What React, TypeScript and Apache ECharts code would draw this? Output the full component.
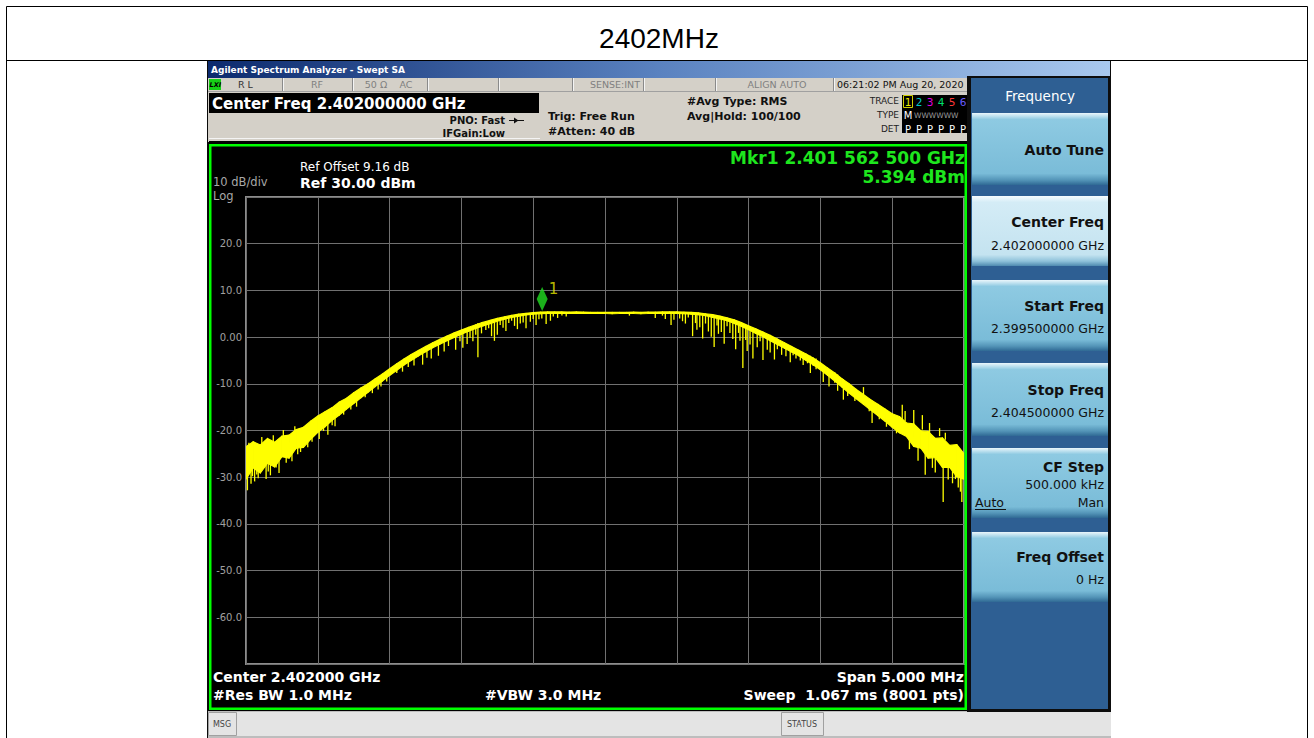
import React, { useEffect, useRef } from "react";
import * as echarts from "echarts";

// ---------- data ----------
const pageTitle = "2402MHz";
const startOffsetMHz = -2.5; // frequency offset relative to center 2.402 GHz
const stepMHz = 0.05;
// dense 8001-point trace summarised as its band: upper and lower edge (dBm) every 0.05 MHz
const bandUpper = [
  -23.5, -22.4, -23.1, -21.7, -22.5, -21.2, -21.0, -19.8, -19.3, -18.0,
  -16.9, -16.0, -15.1, -13.9, -13.1, -11.9, -10.9, -10.0, -8.9, -7.9,
  -6.8, -5.7, -4.7, -3.75, -2.85, -2.0, -1.2, -0.45, 0.25, 0.9,
  1.5, 2.1, 2.65, 3.15, 3.6, 4.0, 4.35, 4.65, 4.9, 5.1,
  5.25, 5.35, 5.4, 5.4, 5.4, 5.35, 5.4, 5.35, 5.3, 5.3,
  5.3, 5.3, 5.3, 5.3, 5.35, 5.3, 5.35, 5.35, 5.4, 5.4,
  5.4, 5.35, 5.3, 5.2, 5.0, 4.8, 4.5, 4.1, 3.7, 3.1,
  2.4, 1.8, 1.1, 0.4, -0.4, -1.2, -2.0, -2.8, -3.6, -4.5,
  -5.5, -6.6, -7.7, -8.9, -10.0, -11.2, -12.3, -13.4, -14.4, -15.4,
  -16.4, -17.0, -18.4, -18.6, -20.1, -20.2, -21.7, -21.6, -23.2, -23.0,
  -25.0,
];
const bandLower = [
  -30.4, -28.0, -29.1, -27.0, -27.8, -25.6, -25.9, -23.8, -23.6, -21.9,
  -20.4, -19.2, -17.8, -16.7, -15.4, -14.2, -13.0, -11.8, -10.6, -9.4,
  -8.2, -7.1, -6.0, -5.0, -4.05, -3.15, -2.3, -1.5, -0.75, -0.05,
  0.6, 1.25, 1.85, 2.4, 2.9, 3.4, 3.85, 4.2, 4.5, 4.75,
  4.9, 5.0, 5.1, 5.1, 5.1, 5.05, 5.1, 5.05, 5.05, 5.05,
  5.05, 5.0, 5.05, 5.05, 5.05, 5.0, 5.05, 5.1, 5.1, 5.1,
  5.1, 5.0, 4.9, 4.8, 4.6, 4.2, 3.9, 3.5, 2.9, 2.3,
  1.6, 0.8, 0.1, -0.8, -1.6, -2.4, -3.2, -4.0, -5.0, -5.9,
  -7.0, -8.2, -9.4, -10.7, -12.0, -13.2, -14.4, -15.6, -16.8, -18.0,
  -19.3, -20.5, -21.3, -23.4, -23.8, -25.9, -25.8, -27.9, -27.9, -29.9,
  -30.4,
];
// individual spikes of the trace: [offset MHz, from dBm, to dBm]
const traceSpikes = [
  [-2.49, -27.0, -32.8], [-2.48, -25.0, -22.6], [-2.465, -27.5, -31.4], [-2.455, -26.5, -29.8],
  [-2.44, -26.0, -30.9], [-2.425, -25.5, -29.4], [-2.415, -25.5, -30.2], [-2.39, -24.0, -21.4],
  [-2.36, -25.0, -30.4], [-2.345, -24.0, -28.8], [-2.33, -24.5, -29.6], [-2.31, -23.5, -21.0],
  [-2.29, -23.5, -27.9], [-2.27, -24.0, -29.1], [-2.24, -22.5, -19.9], [-2.22, -23.0, -26.9],
  [-2.2, -22.5, -25.9], [-2.18, -22.0, -26.6], [-2.16, -21.0, -19.1], [-2.14, -21.5, -25.1],
  [-2.12, -21.0, -24.6], [-2.07, -20.0, -23.6], [-2.04, -19.5, -22.4], [-1.99, -19.0, -21.8],
  [-1.96, -18.5, -20.1], [-1.93, -17.5, -20.9], [-1.9, -17.0, -18.9], [-1.88, -16.5, -19.1],
  [-1.82, -15.0, -16.6], [-1.77, -14.0, -15.5], [-1.73, -13.0, -14.9], [-1.67, -11.5, -12.9],
  [-1.62, -10.0, -12.0], [-1.58, -9.5, -11.2], [-1.56, -9.0, -10.6], [-1.52, -8.0, -9.5],
  [-1.45, -6.0, -7.7], [-1.41, -5.0, -7.4], [-1.37, -4.3, -6.4], [-1.33, -3.8, -6.1],
  [-1.27, -3.0, -5.9], [-1.24, -2.3, -4.4], [-1.21, -1.8, -4.6], [-1.16, -1.0, -4.0],
  [-1.12, -0.4, -3.1], [-1.09, 0.0, -1.9], [-1.04, 0.8, -2.7], [-1.01, 1.2, -0.9],
  [-0.99, 1.4, -2.3], [-0.96, 1.8, -1.5], [-0.94, 2.0, -0.2], [-0.92, 2.4, -0.9],
  [-0.9, 2.4, 0.5], [-0.885, 3.0, -4.3], [-0.86, 3.2, 0.8], [-0.83, 3.4, 1.5],
  [-0.81, 3.3, 1.9], [-0.79, 3.7, 0.2], [-0.77, 3.7, -0.8], [-0.75, 4.0, 0.5],
  [-0.73, 4.0, 2.6], [-0.71, 4.2, 2.0], [-0.69, 4.3, 1.3], [-0.67, 4.5, 3.0],
  [-0.65, 4.5, 3.5], [-0.63, 4.7, 2.4], [-0.61, 4.7, 1.7], [-0.59, 4.8, 2.9],
  [-0.57, 4.9, 3.1], [-0.55, 5.0, 1.9], [-0.52, 5.0, 3.3], [-0.5, 5.0, 3.9],
  [-0.48, 5.1, 2.6], [-0.46, 5.1, 3.8], [-0.44, 5.1, 4.0], [-0.41, 5.2, 2.8],
  [-0.38, 5.2, 3.5], [-0.36, 5.2, 4.4], [-0.33, 5.2, 4.1], [-0.3, 5.2, 4.6],
  [-0.27, 5.2, 4.4], [0.17, 5.1, 4.6], [0.35, 5.1, 4.1], [0.4, 5.1, 4.6],
  [0.42, 5.2, 3.9], [0.46, 5.2, 2.6], [0.48, 5.2, 3.7], [0.52, 5.2, 4.0],
  [0.54, 5.2, 3.4], [0.56, 5.1, 2.9], [0.58, 5.1, 4.2], [0.61, 5.0, 0.2],
  [0.63, 5.0, 3.0], [0.64, 4.9, 1.6], [0.66, 4.8, 2.1], [0.68, 4.7, -0.3],
  [0.7, 4.6, 2.9], [0.72, 4.5, 1.2], [0.74, 4.4, 0.1], [0.76, 4.3, -2.1],
  [0.78, 4.2, 2.5], [0.79, 4.1, 0.7], [0.81, 3.9, 1.1], [0.83, 3.8, -1.4],
  [0.85, 3.6, 2.3], [0.87, 3.4, 0.9], [0.89, 3.2, -0.4], [0.91, 2.9, -2.6],
  [0.93, 2.7, 0.9], [0.94, 2.5, -0.8], [0.96, 2.3, -6.6], [0.98, 2.0, -0.6],
  [0.99, 1.9, -3.0], [1.01, 1.7, -1.6], [1.03, 1.5, -4.6], [1.06, 1.0, -2.2],
  [1.08, 0.8, -0.9], [1.1, 0.5, -4.9], [1.13, 0.1, -2.7], [1.15, -0.1, -3.3],
  [1.18, -0.6, -4.8], [1.2, -0.8, -2.6], [1.23, -1.3, -3.8], [1.26, -1.7, -4.1],
  [1.29, -2.2, -5.4], [1.31, -2.4, -3.9], [1.33, -2.7, -4.6], [1.36, -3.1, -5.0],
  [1.38, -3.3, -6.0], [1.41, -3.8, -5.6], [1.43, -4.0, -7.7], [1.45, -4.4, -6.2],
  [1.47, -4.6, -6.9], [1.52, -6.2, -9.6], [1.56, -6.9, -10.6], [1.6, -7.6, -9.8],
  [1.62, -8.0, -11.5], [1.66, -9.0, -13.4], [1.69, -9.8, -12.6], [1.74, -11.0, -13.7],
  [1.8, -12.3, -10.7], [1.84, -13.2, -15.9], [1.86, -13.6, -18.4], [1.91, -14.6, -17.6],
  [1.94, -15.3, -17.3], [1.96, -15.6, -19.2], [2.0, -16.7, -18.9], [2.03, -16.8, -20.6],
  [2.07, -17.6, -14.5], [2.09, -18.0, -15.8], [2.12, -21.0, -24.0], [2.15, -19.0, -15.6],
  [2.18, -23.0, -26.5], [2.21, -19.8, -16.7], [2.23, -24.5, -29.5], [2.26, -21.0, -18.4],
  [2.28, -25.5, -28.0], [2.3, -25.5, -29.0], [2.33, -21.2, -19.5], [2.355, -27.0, -35.3],
  [2.37, -22.0, -20.5], [2.39, -27.5, -30.5], [2.42, -28.5, -31.3], [2.44, -28.0, -30.4],
  [2.46, -29.0, -32.2], [2.475, -29.0, -33.1], [2.485, -29.5, -35.3],
];
const xMinMHz = -2.5;
const xMaxMHz = 2.5;
const xDivMHz = 0.5;
const yMin = -70;
const yMax = 30;
const yDiv = 10;
const yTickValues = [20, 10, 0, -10, -20, -30, -40, -50, -60];
const yTickLabels = ["20.0", "10.0", "0.00", "-10.0", "-20.0", "-30.0", "-40.0", "-50.0", "-60.0"];
const markerOffsetMHz = -0.4375; // 2.401 562 500 GHz
const markerLevel = 5.394;
const markerName = "1";

const softkeyTitles = ["Auto Tune", "Center Freq", "Start Freq", "Stop Freq", "CF Step", "Freq Offset"];
const softkeyValues = ["", "2.402000000 GHz", "2.399500000 GHz", "2.404500000 GHz", "500.000 kHz", "0 Hz"];
const traceNumbers = ["1", "2", "3", "4", "5", "6"];
const traceColors = ["#e8e800", "#00c8c8", "#e000e0", "#00e070", "#ff3838", "#6a5cff"];

// ---------- helpers ----------
const FONT = '"DejaVu Sans", Verdana, sans-serif';
const YELLOW = "#ffff00";
const bg = (x: number, y: number, w: number, h: number, fill: any, z = -5) => ({
  type: "rect", shape: { x, y, width: w, height: h }, style: { fill }, z, silent: true,
});
const box = (x: number, y: number, w: number, h: number, stroke: string, lw = 1, z = 6) => ({
  type: "rect", shape: { x, y, width: w, height: h }, style: { fill: "none", stroke, lineWidth: lw }, z, silent: true,
});
const ln = (x1: number, y1: number, x2: number, y2: number, stroke: string, lw = 1, z = 6) => ({
  type: "line", shape: { x1, y1, x2, y2 }, style: { stroke, lineWidth: lw }, z, silent: true,
});
const tx = (x: number, y: number, text: string, size: number, fill: string, weight = "normal", align = "left", family = FONT) => ({
  type: "text", x, y, z: 10, silent: true,
  style: {
    text, fill, font: `${weight} ${size}px ${family}`,
    textAlign: align, textVerticalAlign: "middle", align, verticalAlign: "middle",
  },
});

function buildGraphics() {
  const g: any[] = [];
  // outer table
  g.push(bg(0, 0, 1314, 738, "#ffffff", -20));
  g.push(box(6.5, 6.5, 1301, 760, "#000000", 1, -1));
  g.push(ln(6, 60.5, 1308, 60.5, "#000000", 1, -1));
  g.push(tx(659, 38, pageTitle, 28, "#000000", "normal", "center", '"Liberation Sans", Arial, sans-serif'));

  // screenshot frame
  g.push(bg(207, 61, 904, 677, "#0a0a0a", -9));
  g.push(bg(208, 61, 902, 17, new echarts.graphic.LinearGradient(0, 0, 1, 0, [
    { offset: 0, color: "#0c2a6e" }, { offset: 0.5, color: "#5a82c0" }, { offset: 1, color: "#a8c8ee" },
  ]), -8));
  g.push(tx(211, 69.5, "Agilent Spectrum Analyzer - Swept SA", 9, "#ffffff", "bold"));

  // status row
  g.push(bg(208, 78, 759, 13, "#d4d0c8", -8));
  [282, 352, 427, 498, 572, 643, 715, 833].forEach((x) => {
    g.push(ln(x + 0.5, 78, x + 0.5, 91, "#8a8a8a", 1, -7));
    g.push(ln(x + 1.5, 78, x + 1.5, 91, "#f4f4f4", 1, -7));
  });
  g.push(bg(209, 79, 12, 11, "#16d016", -7));
  g.push(tx(209.5, 84.5, "LXI", 6.5, "#000000", "bold italic"));
  g.push(tx(238, 84.5, "R L", 9.5, "#333333"));
  g.push(tx(317, 84.5, "RF", 9.5, "#808080", "normal", "center"));
  g.push(tx(376, 84.5, "50 Ω", 9.5, "#808080", "normal", "center"));
  g.push(tx(406, 84.5, "AC", 9.5, "#808080", "normal", "center"));
  g.push(tx(640, 84.5, "SENSE:INT", 9.5, "#808080", "normal", "right"));
  g.push(tx(777, 84.5, "ALIGN AUTO", 9.5, "#808080", "normal", "center"));
  g.push(tx(837, 84.5, "06:21:02 PM Aug 20, 2020", 9.5, "#111111"));

  // header area
  g.push(bg(208, 91, 759, 51, "#d4d0c8", -8));
  g.push(ln(208, 91.5, 967, 91.5, "#a0a0a0", 1, -7));
  g.push(bg(209, 93, 330, 20, "#000000", -7));
  g.push(tx(212, 103.5, "Center Freq 2.402000000 GHz", 15, "#ffffff", "bold"));
  g.push(ln(209, 138.5, 540, 138.5, "#f4f4f4", 1, -7));
  g.push(tx(505, 120, "PNO: Fast", 10, "#111111", "bold", "right"));
  g.push(tx(505, 133, "IFGain:Low", 10, "#111111", "bold", "right"));
  g.push(ln(509, 120.5, 524, 120.5, "#111111", 1, 6));
  g.push({ type: "polygon", shape: { points: [[514, 117.5], [514, 123.5], [518.5, 120.5]] }, style: { fill: "#111111" }, z: 6, silent: true });
  g.push(tx(548, 116, "Trig: Free Run", 11, "#111111", "bold"));
  g.push(tx(548, 131, "#Atten: 40 dB", 11, "#111111", "bold"));
  g.push(tx(687, 101, "#Avg Type: RMS", 11, "#111111", "bold"));
  g.push(tx(687, 116, "Avg|Hold: 100/100", 11, "#111111", "bold"));
  g.push(tx(899, 101, "TRACE", 9, "#222222", "normal", "right"));
  g.push(tx(899, 115, "TYPE", 9, "#222222", "normal", "right"));
  g.push(tx(899, 129, "DET", 9, "#222222", "normal", "right"));
  g.push(bg(902, 95, 65, 38, "#000000", -7));
  g.push(box(903.5, 95.5, 9, 12, "#d0d000", 1, 6));
  traceNumbers.forEach((n, i) => {
    g.push(tx(908 + 11 * i, 101.5, n, 10.5, traceColors[i], "normal", "center"));
    g.push(tx(908 + 11 * i, 129, "P", 10, "#ffffff", "normal", "center"));
  });
  g.push(tx(908, 115, "M", 10, "#ffffff", "normal", "center"));
  g.push(tx(914, 115.5, "WWWWWW", 7.5, "#9a9a9a"));

  // plot area
  g.push(bg(209, 141, 758, 570, "#000000", -7));
  g.push(box(210.25, 145.25, 755.5, 563.5, "#00ff00", 2.5, 8));
  g.push(tx(300, 167, "Ref Offset 9.16 dB", 12, "#ffffff"));
  g.push(tx(300, 182.5, "Ref 30.00 dBm", 14, "#ffffff", "bold"));
  g.push(tx(213, 182, "10 dB/div", 11.5, "#a8a8a8"));
  g.push(tx(213, 196, "Log", 11.5, "#a8a8a8"));
  g.push(tx(965, 158, "Mkr1 2.401 562 500 GHz", 17, "#1ee61e", "bold", "right"));
  g.push(tx(965, 177, "5.394 dBm", 17, "#1ee61e", "bold", "right"));
  g.push(tx(213, 677, "Center 2.402000 GHz", 14, "#ffffff", "bold"));
  g.push(tx(213, 695, "#Res BW 1.0 MHz", 14, "#ffffff", "bold"));
  g.push(tx(485, 695, "#VBW 3.0 MHz", 14, "#ffffff", "bold"));
  g.push(tx(964, 677, "Span 5.000 MHz", 14, "#ffffff", "bold", "right"));
  g.push(tx(964, 695, "Sweep  1.067 ms (8001 pts)", 14, "#ffffff", "bold", "right"));

  // bottom status bar
  g.push(bg(208, 711, 903, 27, "#bdbdbd", -8));
  g.push(bg(208, 712, 903, 24, "#e4e4e4", -7));
  g.push(box(208.5, 712.5, 28, 23, "#a0a0a0", 1, 6));
  g.push(tx(222, 724, "MSG", 8, "#444444", "normal", "center"));
  g.push(box(781.5, 712.5, 42, 23, "#a0a0a0", 1, 6));
  g.push(tx(802, 724, "STATUS", 8, "#444444", "normal", "center"));

  // right softkey panel
  g.push(bg(967, 76, 144, 636, "#0d0d0d", -8));
  g.push(bg(971, 78, 137, 631, "#2e5f93", -7));
  g.push(tx(1040, 96, "Frequency", 13.5, "#ffffff", "normal", "center"));
  const keys = [
    [113, 185], [196, 266], [280, 351], [363, 436], [448, 518], [532, 602],
  ];
  keys.forEach(([y0, y1], i) => {
    const sel = i === 1;
    g.push(bg(972, y0, 136, y1 - y0, new echarts.graphic.LinearGradient(0, 0, 0, 1, sel ? [
      { offset: 0, color: "#f6fcfe" }, { offset: 0.09, color: "#d4ecf6" }, { offset: 0.84, color: "#c4e3f0" },
      { offset: 0.93, color: "#8fc2da" }, { offset: 1, color: "#4f8ab0" },
    ] : [
      { offset: 0, color: "#eaf6fb" }, { offset: 0.09, color: "#8ecae2" }, { offset: 0.84, color: "#7abcd8" },
      { offset: 0.93, color: "#5495b8" }, { offset: 1, color: "#2f6994" },
    ]), -6));
  });
  g.push(tx(1104, 150, softkeyTitles[0], 14, "#111111", "bold", "right"));
  g.push(tx(1104, 222, softkeyTitles[1], 14, "#111111", "bold", "right"));
  g.push(tx(1104, 245, softkeyValues[1], 12.5, "#111111", "normal", "right"));
  g.push(tx(1104, 306, softkeyTitles[2], 14, "#111111", "bold", "right"));
  g.push(tx(1104, 328, softkeyValues[2], 12.5, "#111111", "normal", "right"));
  g.push(tx(1104, 390, softkeyTitles[3], 14, "#111111", "bold", "right"));
  g.push(tx(1104, 412, softkeyValues[3], 12.5, "#111111", "normal", "right"));
  g.push(tx(1104, 467, softkeyTitles[4], 14, "#111111", "bold", "right"));
  g.push(tx(1104, 484, softkeyValues[4], 12.5, "#111111", "normal", "right"));
  g.push(tx(975, 502, "Auto", 12.5, "#111111"));
  g.push(ln(975, 509.5, 1006, 509.5, "#111111", 1, 10));
  g.push(tx(1104, 502, "Man", 12.5, "#111111", "normal", "right"));
  g.push(tx(1104, 557, softkeyTitles[5], 14, "#111111", "bold", "right"));
  g.push(tx(1104, 579, softkeyValues[5], 12.5, "#111111", "normal", "right"));
  return g;
}

export default function App() {
  const ref = useRef<HTMLDivElement>(null);
  useEffect(() => {
    if (!ref.current) return;
    const chart = echarts.init(ref.current, null, { renderer: "svg", width: 1314, height: 738 });
    const bandData = bandUpper.map((v, i) => [Number((startOffsetMHz + stepMHz * i).toFixed(4)), v, bandLower[i]]);
    chart.setOption({
      animation: false,
      grid: {
        left: 246, top: 197, width: 718, height: 467,
        show: true, borderColor: "#8c8c8c", borderWidth: 2, backgroundColor: "transparent",
      },
      xAxis: {
        type: "value", min: xMinMHz, max: xMaxMHz, interval: xDivMHz,
        axisLabel: { show: false }, axisTick: { show: false }, axisLine: { show: false },
        splitLine: { show: true, lineStyle: { color: "#707070", width: 1 } },
      },
      yAxis: {
        type: "value", min: yMin, max: yMax, interval: yDiv,
        axisTick: { show: false }, axisLine: { show: false },
        splitLine: { show: true, lineStyle: { color: "#707070", width: 1 } },
        axisLabel: {
          color: "#a0a0a0", fontSize: 10, fontFamily: FONT, margin: 4,
          formatter: (v: number) => {
            const i = yTickValues.indexOf(v);
            return i >= 0 ? yTickLabels[i] : "";
          },
        },
      },
      series: [
        {
          name: "band", type: "custom", data: bandData, clip: true, z: 3,
          encode: { x: 0, y: [1, 2] },
          renderItem: (params: any, api: any) => {
            const i = params.dataIndexInside;
            if (i >= params.dataInsideLength - 1) return { type: "group", children: [] };
            const x0 = api.value(0, i), x1 = api.value(0, i + 1);
            const pts = [
              api.coord([x0, api.value(1, i)]),
              api.coord([x1, api.value(1, i + 1)]),
              api.coord([x1, api.value(2, i + 1)]),
              api.coord([x0, api.value(2, i)]),
            ];
            return {
              type: "polygon",
              shape: { points: pts },
              style: { fill: YELLOW, stroke: YELLOW, lineWidth: 1.2, lineJoin: "round" },
            };
          },
        },
        {
          name: "spikes", type: "custom", data: traceSpikes, clip: true, z: 3,
          encode: { x: 0, y: [1, 2] },
          renderItem: (_p: any, api: any) => {
            const a = api.coord([api.value(0), api.value(1)]);
            const b = api.coord([api.value(0), api.value(2)]);
            return {
              type: "line",
              shape: { x1: a[0], y1: a[1], x2: b[0], y2: b[1] },
              style: { stroke: YELLOW, lineWidth: 1.3 },
            };
          },
        },
        {
          name: "marker", type: "scatter", data: [[markerOffsetMHz, markerLevel]], z: 5, silent: true,
          symbol: "diamond", symbolSize: [11, 24], symbolOffset: [0, -13],
          itemStyle: { color: "#22dd22" },
          label: { show: true, formatter: markerName, position: [12, -5], color: "#e8e800", fontSize: 15, fontFamily: FONT },
        },
      ],
      graphic: { elements: buildGraphics() },
    });
    return () => chart.dispose();
  }, []);
  return <div ref={ref} style={{ position: "absolute", left: 0, top: 0, width: 1314, height: 738 }} />;
}
